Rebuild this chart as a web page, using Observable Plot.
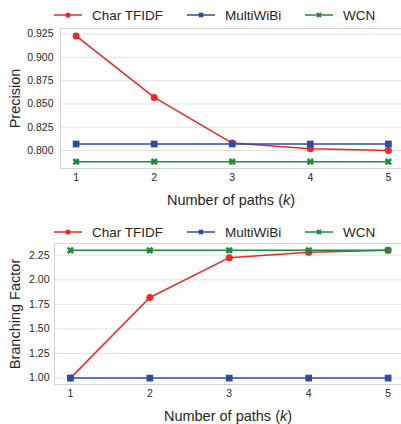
<!DOCTYPE html>
<html><head><meta charset="utf-8">
<script src="https://cdn.jsdelivr.net/npm/d3@7"></script>
<script src="https://cdn.jsdelivr.net/npm/@observablehq/plot@0.6"></script>
<style>
body{margin:0;background:#fff;font-family:"Liberation Sans",Arial,sans-serif;}
#root{width:401px;height:424px;overflow:hidden;position:relative;background:#fff}
.legend{position:relative;width:401px}
.item{position:absolute;height:0;display:flex;align-items:center;font-size:13.5px;color:#262626;white-space:nowrap}
.item svg{margin-right:10px;overflow:visible}
</style></head><body><div id="root"></div><script>
const ks = [1, 2, 3, 4, 5];
const series = ["Char TFIDF", "MultiWiBi", "WCN"];
const colors = ["#ee2626", "#2f4ba6", "#1e8a3c"];
const precisionChar = [0.923, 0.857, 0.808, 0.802, 0.800];
const precisionMulti = [0.807, 0.807, 0.807, 0.807, 0.807];
const precisionWCN = [0.788, 0.788, 0.788, 0.788, 0.788];
const branchChar = [1.00, 1.82, 2.225, 2.28, 2.30];
const branchMulti = [1.00, 1.00, 1.00, 1.00, 1.00];
const branchWCN = [2.30, 2.30, 2.30, 2.30, 2.30];
const precisionTicks = [0.800, 0.825, 0.850, 0.875, 0.900, 0.925];
const branchTicks = [1.00, 1.25, 1.50, 1.75, 2.00, 2.25];
const xLabel = "Number of paths (k)";

// filled "X" marker
const symbolX = {
  draw(context, size) {
    const h = Math.sqrt(size) * 0.62, w = h * 0.36;
    const pts = [[w,-h],[w,-w],[h,-w],[h,w],[w,w],[w,h],[-w,h],[-w,w],[-h,w],[-h,-w],[-w,-w],[-w,-h]];
    const s = Math.SQRT1_2;
    pts.forEach(([x, y], i) => {
      const px = (x - y) * s, py = (x + y) * s;
      if (i === 0) context.moveTo(px, py); else context.lineTo(px, py);
    });
    context.closePath();
  }
};
const symbols = ["circle", "square", symbolX];
const symbolSizes = [3.5, 3.8, 3.4];
const d3Symbols = [d3.symbolCircle, d3.symbolSquare, symbolX];

const root = document.getElementById("root");

function legend(height, centerY) {
  const div = document.createElement("div");
  div.className = "legend";
  div.style.height = height + "px";
  const lefts = [54, 187, 305];
  series.forEach((name, i) => {
    const item = document.createElement("div");
    item.className = "item";
    item.style.left = lefts[i] + "px";
    item.style.top = centerY + "px";
    const svg = d3.create("svg").attr("width", 28).attr("height", 12);
    svg.append("line").attr("x1", 0).attr("x2", 28).attr("y1", 6).attr("y2", 6)
      .attr("stroke", colors[i]).attr("stroke-width", 1.5);
    svg.append("path").attr("transform", "translate(14,6)")
      .attr("d", d3.symbol(d3Symbols[i], Math.PI * 2.6 * 2.6)())
      .attr("fill", colors[i]);
    item.appendChild(svg.node());
    const t = document.createElement("span");
    t.textContent = name;
    item.appendChild(t);
    div.appendChild(item);
  });
  return div;
}

function chart({values, ticks, domain, height, marginLeft, marginTop, marginBottom, yLabel, yLabelOffset, yPad}) {
  const marks = [
    Plot.gridY(ticks, {stroke: "#e3e3e3", strokeOpacity: 1}),
    Plot.ruleY([domain[0], domain[1]], {stroke: "#d2d2d2"}),
    Plot.ruleX([0.8], {stroke: "#d2d2d2"}),
    Plot.axisY({ticks, tickSize: 0, tickPadding: yPad, tickFormat: d3.format(ticks[0] < 1 ? ".3f" : ".2f"), label: null, fontSize: 10.5}),
    Plot.axisX({ticks: ks, tickSize: 0, tickPadding: 5, tickFormat: d => String(d), label: null, fontSize: 10.5}),
    Plot.text([yLabel], {frameAnchor: "left", dx: -yLabelOffset, rotate: -90, textAnchor: "middle", lineAnchor: "middle", fontSize: 14.5, fill: "#262626"}),
    Plot.text([xLabel], {frameAnchor: "bottom", dy: 32, textAnchor: "middle", lineAnchor: "middle", fontSize: 14.5, fill: "#262626"})
  ];
  values.forEach((vals, i) => {
    const rows = ks.map((k, j) => ({k, v: vals[j], s: series[i]}));
    marks.push(Plot.line(rows, {x: "k", y: "v", stroke: colors[i], strokeWidth: 1.5}));
    marks.push(Plot.dot(rows, {x: "k", y: "v", fill: colors[i], symbol: symbols[i], r: symbolSizes[i]}));
  });
  const p = Plot.plot({
    width: 401, height, marginLeft, marginRight: 0, marginTop, marginBottom,
    style: {fontFamily: '"Liberation Sans", Arial, sans-serif', color: "#262626", background: "#fff"},
    x: {domain: [0.8, 5.2], range: [marginLeft, 403.5], axis: null},
    y: {domain, axis: null},
    marks
  });
  // italic k in x label
  d3.select(p).selectAll("text").each(function() {
    if (this.textContent === xLabel) {
      const el = d3.select(this);
      el.text(null);
      el.append("tspan").text("Number of paths (");
      el.append("tspan").attr("font-style", "italic").text("k");
      el.append("tspan").text(")");
    }
  });
  return p;
}

root.appendChild(legend(27, 15));
root.appendChild(chart({
  values: [precisionChar, precisionMulti, precisionWCN],
  ticks: precisionTicks, domain: [0.7807, 0.931],
  height: 185, marginLeft: 60, marginTop: 1, marginBottom: 44,
  yLabel: "Precision", yLabelOffset: 45, yPad: 7
}));
root.appendChild(legend(30, 20));
root.appendChild(chart({
  values: [branchChar, branchMulti, branchWCN],
  ticks: branchTicks, domain: [0.935, 2.369],
  height: 182, marginLeft: 54, marginTop: 1, marginBottom: 40,
  yLabel: "Branching Factor", yLabelOffset: 39, yPad: 5
}));
</script></body></html>
